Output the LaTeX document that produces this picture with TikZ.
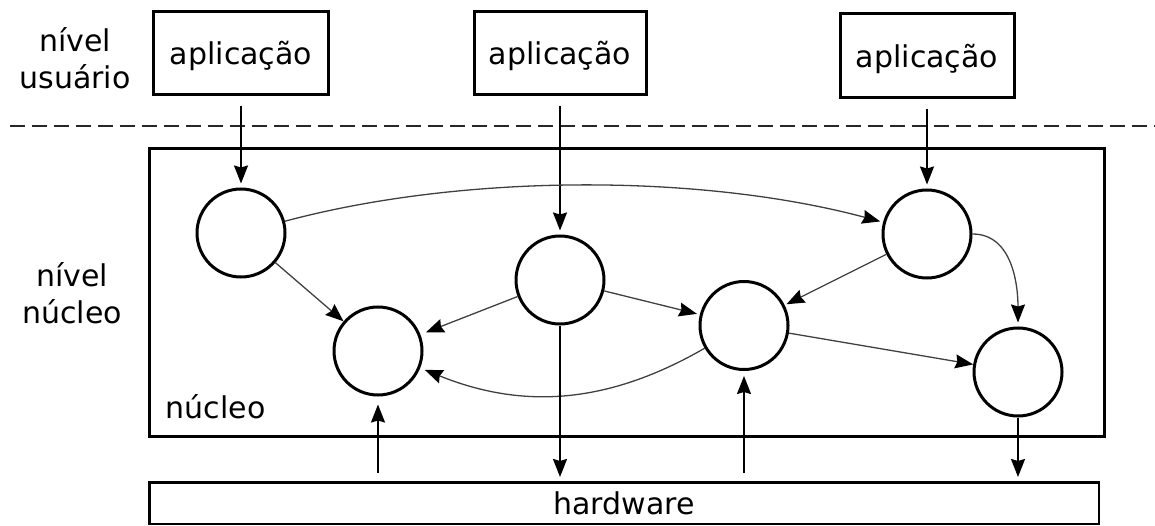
\documentclass[tikz,border=0pt]{standalone}
\usepackage{fontspec}
\setmainfont{DejaVu Sans}
\usetikzlibrary{arrows.meta}
\begin{document}
\begin{tikzpicture}[x=1pt,y=1pt,
  txt/.style={font=\fontsize{30}{37}\selectfont},
  appbox/.style={draw, line width=3pt, minimum height=83pt, inner sep=0pt,
                 text height=24pt, text depth=0pt, txt},
  proc/.style={draw, circle, line width=3pt, minimum size=88pt, inner sep=0pt},
  link/.style={line width=1.3pt, draw=black!75,
               -{Stealth[length=18pt,width=14pt,inset=2pt,color=black]}},
  vlink/.style={link, line width=1.9pt, draw=black},
  levelsep/.style={line width=2pt, black!85, dash pattern=on 15pt off 7pt}
]
\useasboundingbox (0,0) rectangle (1155,-526);

% user-level applications
\node[appbox, minimum width=175pt] (app1) at (241,-53) {aplicação};
\node[appbox, minimum width=172pt] (app2) at (560,-53) {aplicação};
\node[appbox, minimum width=174pt, minimum height=84pt] (app3) at (927,-55.5) {aplicação};

% level labels
\node[txt, align=center] (lvlUser) at (75,-58.5) {nível\\usuário};
\node[txt, align=center] (lvlKernel) at (72,-293.5) {nível\\núcleo};

% user / kernel boundary
\coordinate (sepL) at (10,-126);
\coordinate (sepR) at (1160,-126);
\draw[levelsep] (sepL) -- (sepR);

% kernel and hardware
\node[draw, line width=3pt, minimum width=955pt, minimum height=288pt] (kernel) at (627,-292.5) {};
\node[txt, anchor=base west, inner sep=0pt] (kname) at (165.5,-418) {núcleo};
\node[draw, line width=2.5pt, minimum width=949.5pt, minimum height=41.5pt, inner sep=0pt, txt] (hw) at (624,-503) {hardware};

% kernel components
\node[proc] (p1) at (241,-233) {};
\node[proc] (p2) at (378,-351) {};
\node[proc] (p3) at (560,-280) {};
\node[proc] (p4) at (744,-325.5) {};
\node[proc] (p5) at (927,-234) {};
\node[proc] (p6) at (1018,-372) {};

% system calls from the applications
\draw[vlink, shorten <=10pt, shorten >=4pt] (app1) -- (p1);
\draw[vlink, shorten <=10pt, shorten >=4pt] (app2) -- (p3);
\draw[vlink, shorten <=10pt, shorten >=4pt] (app3) -- (p5);

% interactions inside the kernel
\draw[link] (p1) -- (p2);
\draw[link, shorten >=6pt] (p3) -- (p2);
\draw[link, shorten >=3pt] (p3) -- (p4);
\draw[link, shorten >=2pt] (p5) -- (p4);
\draw[link] (p4) -- (p6);
\draw[link, shorten >=3pt] (p1) to[out=15, in=165, looseness=0.8] (p5);
\draw[link, shorten >=4pt] (p5) to[out=0, in=90] (p6);
\draw[link, shorten >=5pt] (p4) to[out=210, in=-22] (p2);

% kernel <-> hardware
\draw[vlink, shorten >=4pt] (p3) -- (p3 |- hw.north);
\draw[vlink, shorten >=4pt] (p6) -- (p6 |- hw.north);
\draw[vlink, shorten <=8pt, shorten >=8pt] (hw.north -| p2) -- (p2);
\draw[vlink, shorten <=8pt, shorten >=5pt] (hw.north -| p4) -- (p4);
\end{tikzpicture}
\end{document}
